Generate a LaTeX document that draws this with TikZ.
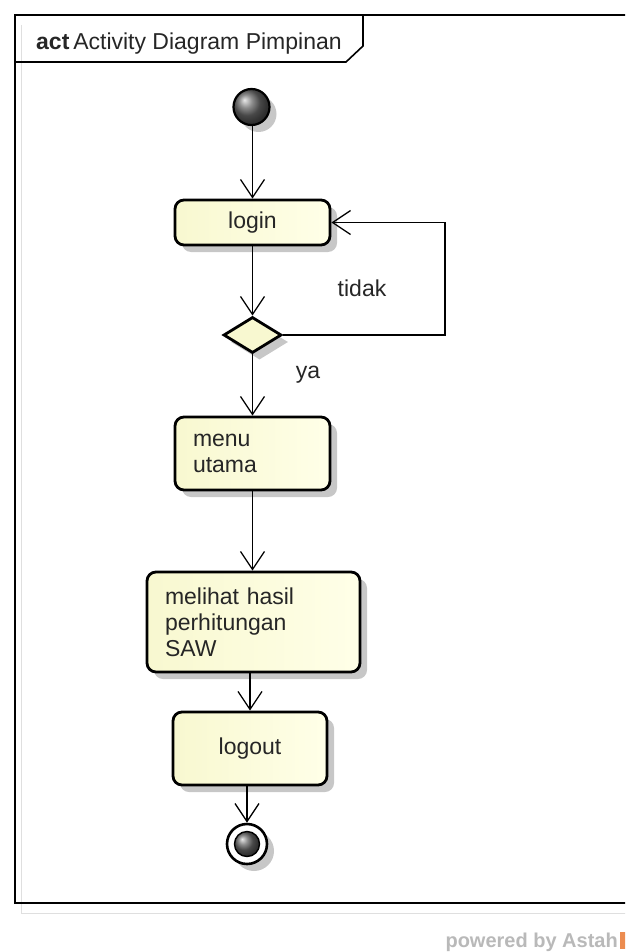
\documentclass[tikz,border=0pt]{standalone}
\usepackage{fontspec}
\setmainfont{Liberation Sans}
\usetikzlibrary{arrows.meta,shapes.geometric,shadows,calc}
\definecolor{boxL}{RGB}{248,248,208}
\definecolor{boxR}{RGB}{255,255,232}
\definecolor{astahorange}{RGB}{236,140,80}
\begin{document}
\begin{tikzpicture}[x=1pt,y=-1pt,
  every node/.style={font=\fontsize{23}{26}\selectfont,text=black!85},
  shad/.style={drop shadow={shadow xshift=7pt,shadow yshift=-7pt,fill=black,opacity=0.22}},
  actbox/.style={draw=black,line width=2.8pt,rounded corners=9pt,left color=boxL,right color=boxR,shad,inner sep=0pt},
  decbox/.style={diamond,draw=black,line width=2.8pt,fill=boxL,shad,inner sep=0pt,minimum width=58pt,minimum height=36pt,aspect=1.6},
  arr/.style={line width=1.3pt,-{Straight Barb[length=18pt,width=24pt,line width=1.3pt]}},
  lbl/.style={inner sep=0pt}
]
\useasboundingbox (0,0) rectangle (625,952);
\clip (0,0) rectangle (625,952);
\fill[white] (0,0) rectangle (625,952);
% faint outer frame shadow lines
\draw[gray!25,line width=1pt] (21,25) -- (21,913) -- (640,913);
% frame
\draw[black,line width=1.6pt] (640,15) -- (15,15) -- (15,903) -- (640,903);
\draw[black,line width=1.6pt] (15,62) -- (346,62) -- (363,46) -- (363,15);
\node[lbl,anchor=base west] (title) at (36,50) {\textbf{act}\,Activity Diagram Pimpinan};

% nodes
\node[circle,minimum size=36pt,inner sep=0pt,draw=black,line width=2.2pt,shading=ball,ball color=gray!80!black,shad] (init) at (251.5,107) {};
\node[actbox,minimum width=155pt,minimum height=45pt] (login) at (252.5,222.5) {login};
\node[decbox] (dec) at (252.5,335) {};
\node[actbox,minimum width=155pt,minimum height=73pt,text width=119pt,align=left,inner xsep=18pt] (menu) at (252.5,453.5) {menu\\utama};
\node[actbox,minimum width=213pt,minimum height=100pt,text width=177pt,align=left,inner xsep=18pt] (saw) at (253.5,622) {melihat hasil\\perhitungan\\SAW};
\node[actbox,minimum width=154pt,minimum height=73pt] (logout) at (250,748.5) {logout};
\node[circle,minimum size=40pt,inner sep=0pt,draw=black,line width=2.6pt,fill=white,shad] (final) at (247,844) {};
\node[circle,minimum size=25pt,inner sep=0pt,draw=black,line width=1.4pt,shading=ball,ball color=gray!80!black] (finalin) at (final) {};

% labels
\node[lbl] (tidak) at (362,288) {tidak};
\node[lbl] (ya) at (308,375) {ya};

% connectors
\coordinate (loopc) at (445,335);
\draw[arr] (login.north |- init.south) -- (login.north);
\draw[arr] (login.south) -- (dec.north);
\draw[arr] (dec.east) -- (loopc) |- (login.east);
\draw[arr] (dec.south) -- (menu.north);
\draw[arr] (menu.south) -- (menu.south |- saw.north);
\draw[arr] (logout.north |- saw.south) -- (logout.north);
\draw[arr] (final.north |- logout.south) -- (final.north);

% powered by
\node[lbl,anchor=base east,font=\fontsize{20}{24}\selectfont\bfseries,text=gray!55] (powered) at (618,947) {powered by Astah};
\fill[astahorange] (620,932) rectangle (626,949);
\end{tikzpicture}
\end{document}
